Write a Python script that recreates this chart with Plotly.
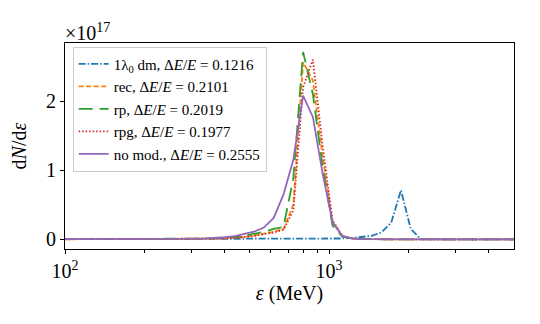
import plotly.graph_objects as go

# Energy bins (MeV)
energy = [94.6, 103, 112, 122, 133, 145, 158, 172, 187, 204, 222, 242, 263, 286,
          312, 340, 370, 403, 439, 478, 520, 566, 617, 672, 732, 797, 868, 945,
          1030, 1121, 1221, 1330, 1449, 1578, 1718, 1871, 2038, 2220, 2417, 2633,
          2867, 3123, 3401, 3704, 4034, 4393, 4785, 5211]

# dN/dε in units of 1e17
dm = [0.002]*28 + [0.008, 0.012, 0.02, 0.03, 0.05, 0.10, 0.24, 0.71, 0.15, 0.004,
                   0, 0, 0, 0, 0, 0, 0, 0, 0, 0]
rec = [0.0005]*11 + [0.002, 0.003, 0.004, 0.005, 0.007, 0.010, 0.014, 0.020, 0.035,
                     0.055, 0.08, 0.11, 0.15, 0.50, 2.56, 2.30, 1.20, 0.25, 0.05,
                     0.01, 0.003] + [0]*16
rp = [0.001]*11 + [0.003, 0.004, 0.006, 0.008, 0.011, 0.016, 0.022, 0.032, 0.05,
                   0.075, 0.11, 0.15, 0.18, 0.88, 2.71, 2.10, 1.05, 0.20, 0.04,
                   0.01, 0.003] + [0]*16
rpg = [0.0005]*11 + [0.002, 0.003, 0.004, 0.005, 0.007, 0.010, 0.013, 0.019, 0.032,
                     0.05, 0.075, 0.10, 0.14, 0.42, 2.20, 2.60, 1.35, 0.28, 0.05,
                     0.012, 0.003] + [0]*16
nomod = [0.001]*8 + [0.0015, 0.0015, 0.003, 0.004, 0.006, 0.008, 0.011, 0.015, 0.02,
                     0.03, 0.045, 0.075, 0.11, 0.17, 0.31, 0.65, 1.15, 2.08, 1.77,
                     0.95, 0.25, 0.05, 0.012, 0.004, 0.002, 0.001] + [0]*14

names = ["1λ<sub>0</sub> dm, Δ<i>E</i>/<i>E</i> = 0.1216",
         "rec, Δ<i>E</i>/<i>E</i> = 0.2101",
         "rp, Δ<i>E</i>/<i>E</i> = 0.2019",
         "rpg, Δ<i>E</i>/<i>E</i> = 0.1977",
         "no mod., Δ<i>E</i>/<i>E</i> = 0.2555"]
series = [dm, rec, rp, rpg, nomod]
colors = ["#1f77b4", "#ff7f0e", "#2ca02c", "#d62728", "#9467bd"]
dashes = ["7px,2px,1.5px,2px", "5px,2.5px", "14px,7px", "1.5px,2px", "solid"]

FONT = "Liberation Serif"

fig = go.Figure()
for nm, ys, c, d in zip(names, series, colors, dashes):
    fig.add_trace(go.Scatter(x=energy, y=ys, mode="lines", name=nm,
                             line=dict(color=c, dash=d, width=1.8)))

# the page body adds an 8px offset; margins compensate
fig.update_layout(
    width=540, height=324,
    margin=dict(l=57, r=34, t=35, b=83),
    plot_bgcolor="white", paper_bgcolor="white",
    font=dict(family=FONT, color="black"),
    showlegend=True,
    legend=dict(x=0.017, y=0.982, xanchor="left", yanchor="top",
                bgcolor="rgba(255,255,255,0.8)", bordercolor="#cccccc",
                borderwidth=1, font=dict(size=15, family=FONT),
                tracegroupgap=0),
    xaxis=dict(type="log", range=[2, 3.70], automargin=False,
               tickmode="array", tickvals=[100, 1000],
               ticktext=["10<sup>2</sup>", "10<sup>3</sup>"],
               ticks="outside", ticklen=4, tickwidth=1, tickcolor="black",
               tickfont=dict(size=20),
               minor=dict(tickmode="array",
                          tickvals=[200, 300, 400, 500, 600, 700, 800, 900,
                                    2000, 3000, 4000],
                          ticks="outside", ticklen=2.5, tickwidth=0.8,
                          tickcolor="black"),
               showline=True, linecolor="black", linewidth=1, mirror=True,
               showgrid=False, zeroline=False,
               title=dict(text="<i>ε</i> (MeV)", font=dict(size=20), standoff=0)),
    yaxis=dict(range=[-0.14, 2.84], automargin=False,
               tickmode="array", tickvals=[0, 1, 2], ticktext=["0", "1", "2"],
               ticks="outside", ticklen=4, tickwidth=1, tickcolor="black",
               tickfont=dict(size=20),
               showline=True, linecolor="black", linewidth=1, mirror=True,
               showgrid=False, zeroline=False,
               title=dict(text="d<i>N</i>/d<i>ε</i>", font=dict(size=20), standoff=14)),
)

fig.add_annotation(text="×10<sup>17</sup>", xref="paper", yref="paper",
                   x=-0.005, y=1.0, xanchor="left", yanchor="bottom",
                   showarrow=False, font=dict(size=20, family=FONT), yshift=-3)

fig.write_html("out.html")
